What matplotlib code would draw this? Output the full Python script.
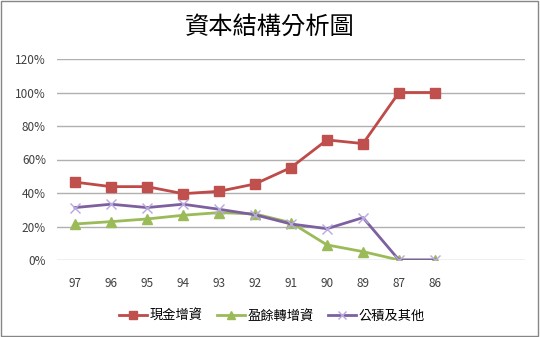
import matplotlib
matplotlib.use("Agg")
import matplotlib.pyplot as plt
from matplotlib.patches import Rectangle

plt.rcParams['font.family'] = ['Noto Sans CJK TC', 'DejaVu Sans']

# 資料
years = ["97", "96", "95", "94", "93", "92", "91", "90", "89", "87", "86"]
cash = [46.5, 43.8, 43.8, 39.6, 41.0, 45.4, 55.2, 71.7, 69.5, 100, 100]
retained = [21.5, 22.9, 24.5, 26.7, 28.3, 27.5, 22.3, 9.0, 5.0, 0, 0]
reserve = [31.3, 33.3, 31.3, 33.3, 30.3, 27.0, 21.5, 18.7, 25.3, 0, 0]
series_names = ["現金增資", "盈餘轉增資", "公積及其他"]

fig = plt.figure(figsize=(5.4, 3.37), dpi=100)
ax = fig.add_axes([57 / 540, 1 - 260 / 337, 468 / 540, 201 / 337])

x = list(range(len(years)))
c = [v / 100 for v in cash]
r = [v / 100 for v in retained]
o = [v / 100 for v in reserve]

ax.plot(x, c, color="#BE4B48", lw=2, marker="s", ms=7,
        markerfacecolor="#C0504D", markeredgecolor="#C0504D", label=series_names[0], zorder=3)
ax.plot(x, r, color="#9BBB59", lw=2, marker="^", ms=7,
        markerfacecolor="#9BBB59", markeredgecolor="#9BBB59", label=series_names[1], zorder=3)
ax.plot(x, o, color="#7D60A0", lw=2, marker="x", ms=7, mew=1,
        markeredgecolor="#B8A8E0", label=series_names[2], zorder=3)

ax.set_xlim(-0.5, 12.5)
ax.set_ylim(0, 1.2)
ax.set_xticks(x)
ax.set_xticklabels(years)
ax.set_yticks([0, 0.2, 0.4, 0.6, 0.8, 1.0, 1.2])
ax.set_yticklabels(["0%", "20%", "40%", "60%", "80%", "100%", "120%"])
ax.tick_params(length=0, labelsize=8.5, colors="#404040")
ax.tick_params(axis="x", pad=12)
ax.tick_params(axis="y", pad=8)
for s in ax.spines.values():
    s.set_visible(False)
ax.yaxis.grid(True, color="#B0B0B0", lw=1)
ax.set_axisbelow(True)

fig.text(0.5, 1 - 27 / 337, "資本結構分析圖", ha="center", va="center", fontsize=17.5)

ax.legend(loc="center", bbox_to_anchor=(272 / 540, 1 - 316 / 337),
          bbox_transform=fig.transFigure, ncol=3, frameon=False,
          fontsize=9.5, handlelength=2.1, columnspacing=1.1, handletextpad=0.2,
          markerscale=0.8)

fig.patches.append(Rectangle((0.002, 0.003), 0.995, 0.994, transform=fig.transFigure,
                             fill=False, edgecolor="#868686", lw=1))

fig.savefig("out.png", dpi=100)
